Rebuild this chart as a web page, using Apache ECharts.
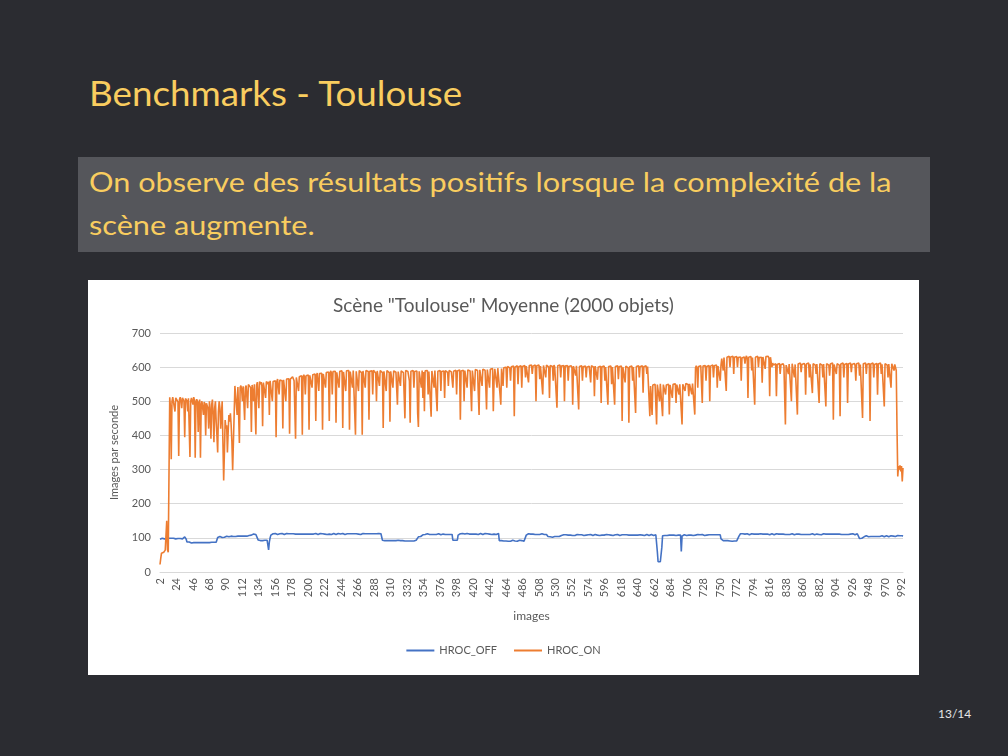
<!DOCTYPE html>
<html>
<head>
<meta charset="utf-8">
<script src="https://cdn.jsdelivr.net/npm/echarts@6/dist/echarts.min.js"></script>
<style>
  html, body { margin: 0; padding: 0; }
  body { width: 1008px; height: 756px; background: #2b2c31; position: relative; overflow: hidden; font-family: Lato, "Open Sans", sans-serif; }
  #title { position: absolute; left: 89px; top: 70px; font-size: 35px; line-height: 44px; color: #f9cd5f; white-space: nowrap; transform: scaleX(1.05); transform-origin: left top; }
  #box { position: absolute; left: 78px; top: 157px; width: 852px; height: 95px; background: #55565b; }
  #boxtext { position: absolute; left: 89px; top: 160px; font-size: 27px; line-height: 43px; color: #f9cd5f; white-space: nowrap; transform: scaleX(1.135); transform-origin: left top; }
  #chart { position: absolute; left: 88px; top: 280px; width: 831px; height: 395px; background: #ffffff; }
  #page { position: absolute; left: 938px; top: 706px; font-size: 12px; color: #e6e6e6; }
</style>
</head>
<body>
<div id="title">Benchmarks - Toulouse</div>
<div id="box"></div>
<div id="boxtext">On observe des résultats positifs lorsque la complexité de la<br>scène augmente.</div>
<div id="chart"></div>
<div id="page">13/14</div>
<script>
const chartTitle = 'Scène "Toulouse" Moyenne (2000 objets)';
const seriesNames = ['HROC_OFF', 'HROC_ON'];
const yTicks = { min: 0, max: 700, step: 100 };
const firstFrame = 2;
const frameCount = 993;
const frames = Array.from({ length: frameCount }, (_, k) => String(firstFrame + k));

const hrocOff = [
96,98,97,99,98,100,97,98,99,97,98,100,99,97,98,99,98,97,99,98,
99,97,98,100,98,97,99,98,100,98,97,99,100,103,104,96,88,87,86,88,
86,87,85,88,87,86,87,88,86,85,87,86,88,87,86,87,85,86,88,87,
86,87,88,86,85,87,86,87,88,87,86,85,87,86,88,87,89,101,103,102,
104,102,103,101,104,103,102,104,103,105,102,104,103,101,104,105,103,102,104,103,
105,104,106,103,105,104,106,105,107,104,105,106,104,105,107,106,105,104,106,107,
106,107,108,109,110,111,109,112,110,111,109,94,93,95,92,93,94,92,93,94,
93,95,92,93,90,65,88,100,108,110,111,112,110,111,113,112,111,110,112,111,
112,110,111,113,111,112,110,111,112,113,111,110,112,111,113,112,110,111,112,111,
113,111,112,110,111,112,113,111,110,112,111,112,113,111,112,110,111,113,112,111,
110,112,111,113,112,111,110,112,113,111,112,110,111,112,113,111,110,112,111,112,
111,113,112,110,111,112,111,113,112,110,112,111,113,112,111,110,112,111,113,112,
112,111,110,112,113,111,112,110,111,113,112,111,110,112,111,113,112,110,111,112,
113,111,112,110,112,111,113,112,110,111,112,113,111,110,112,111,113,112,111,114,
112,111,113,112,110,111,112,113,111,112,110,111,113,112,111,112,110,93,92,91,
92,93,91,92,90,93,92,91,93,92,90,91,92,93,91,92,89,91,93,92,
91,92,93,91,92,90,92,91,93,92,91,92,90,91,93,92,91,92,93,91,
92,91,93,92,94,103,104,105,104,103,106,109,110,111,110,109,111,112,110,109,
110,111,112,110,109,111,110,112,111,110,109,111,112,110,111,109,110,112,111,110,
111,110,112,109,110,111,112,110,109,111,110,93,92,91,93,92,94,93,108,110,
111,112,110,111,113,112,110,111,112,111,113,110,112,111,112,110,111,113,112,111,
110,112,111,113,112,110,111,112,113,111,112,110,111,112,113,111,110,112,111,112,
111,113,112,110,111,112,111,113,112,110,112,111,113,92,91,90,92,91,93,91,
90,92,91,93,91,90,92,91,90,92,91,93,92,90,91,92,91,90,92,91,
93,91,90,92,91,92,90,91,92,108,110,111,112,110,109,111,112,110,111,110,
112,110,111,109,110,112,111,110,109,111,112,110,111,110,112,111,110,106,104,105,
104,103,105,104,102,105,103,104,106,105,104,103,105,104,106,105,107,108,107,109,
108,107,109,108,106,108,109,107,108,110,108,107,109,108,107,109,108,110,107,108,
109,108,107,109,110,108,107,108,109,108,106,108,109,107,108,110,109,108,107,109,
108,110,109,107,108,109,108,107,109,110,108,109,107,108,109,108,110,107,108,109,
107,109,108,110,108,107,109,108,109,107,108,110,109,108,107,109,108,109,110,108,
109,108,107,109,108,110,108,107,109,108,109,107,108,110,109,108,109,107,108,109,
108,109,107,110,108,109,108,107,109,108,110,109,108,107,109,108,110,108,109,107,
108,107,109,106,60,30,27,28,30,29,72,106,108,109,107,108,110,107,108,109,
108,107,109,108,110,107,108,109,108,107,109,110,108,107,109,108,60,105,108,107,
109,108,110,107,108,109,108,107,109,108,110,109,107,108,109,108,107,109,110,108,
108,109,107,108,110,108,109,107,108,109,108,110,107,109,108,107,109,108,110,109,
108,107,109,110,108,109,107,108,109,97,94,93,92,94,93,92,91,93,92,94,
93,91,92,88,90,92,93,91,92,93,91,92,94,105,110,112,111,110,112,111,
110,111,109,110,112,111,110,109,111,110,112,110,109,111,110,112,111,110,109,111,
111,110,112,109,110,111,110,112,111,109,110,111,112,110,109,111,110,112,111,110,
109,111,110,112,110,109,111,110,112,111,110,109,111,110,112,110,111,109,110,112,
111,110,109,111,112,110,111,109,110,112,111,110,109,111,110,112,110,111,109,110,
112,111,110,109,111,110,112,111,110,109,111,112,110,111,109,110,112,111,110,111,
110,112,111,109,110,111,112,110,109,111,110,112,111,110,109,111,110,112,111,110,
109,111,110,112,111,110,109,111,110,112,110,111,109,110,112,111,110,109,111,110,
112,110,111,109,110,112,111,110,109,111,110,112,111,110,98,96,97,99,97,96,
103,105,104,106,105,104,103,105,106,104,105,103,104,106,105,104,103,105,104,106,
105,104,103,105,106,104,105,103,104,105,106,104,105,103,105,104,106,105,104,105,
106,105,104,106,105,107,105,104,106,105,107,106,105
];

const hrocOn = [
22,40,55,58,60,58,62,64,60,150,65,58,62,512,480,330,500,512,508,515,
470,510,505,514,498,340,505,512,500,480,510,506,500,395,508,513,502,470,509,505,
337,500,510,507,490,512,503,335,498,506,500,410,495,505,335,490,500,496,460,498,
492,400,494,498,480,420,500,470,390,490,505,460,380,480,500,440,400,350,470,500,
480,420,460,500,380,268,350,445,420,430,350,410,460,440,465,430,380,298,380,460,
545,540,548,460,542,538,378,540,546,535,500,544,548,445,540,546,543,480,549,545,
552,540,410,548,553,500,550,555,403,548,556,552,480,558,550,556,545,427,555,560,
553,510,558,562,550,557,460,560,555,562,500,558,563,556,560,395,558,565,560,520,
562,558,566,560,420,563,567,558,500,565,568,560,566,405,565,570,566,572,568,560,
565,390,570,574,567,530,572,576,570,575,402,572,578,571,520,575,579,572,577,417,
576,580,574,540,578,582,575,580,442,577,583,578,530,581,585,577,582,417,580,585,
579,540,584,588,581,586,442,583,589,582,520,587,590,584,588,437,585,590,583,540,
588,592,585,589,422,586,591,584,530,589,593,585,590,417,587,592,585,540,590,586,
591,402,588,593,585,530,590,586,592,584,402,589,593,586,540,590,585,591,587,446,
588,592,584,589,520,591,586,590,583,500,589,593,585,545,590,586,591,584,422,588,
592,585,530,590,586,591,584,440,588,592,585,540,589,586,591,585,590,490,587,592,
585,545,589,586,591,584,588,450,590,585,592,587,583,560,437,588,592,585,590,540,
587,591,584,589,465,425,588,592,585,540,590,510,586,471,589,593,585,590,520,587,
591,584,455,589,592,586,540,590,585,591,471,588,593,585,590,530,587,592,585,589,
510,590,586,592,585,545,590,587,593,586,591,540,588,593,586,591,520,589,594,587,
592,446,589,594,587,591,500,590,595,588,540,592,587,594,589,593,471,590,595,588,
530,593,589,595,590,520,460,592,596,589,545,594,590,596,591,540,476,593,597,590,
540,594,598,591,596,471,560,595,599,592,540,597,593,599,520,490,596,600,545,598,
601,595,600,540,602,597,603,598,560,601,604,598,603,456,600,605,599,604,550,601,
606,600,604,540,602,607,600,605,570,603,607,601,555,605,608,601,606,580,603,608,
601,606,500,604,608,601,606,565,603,607,600,520,605,608,601,570,606,602,607,600,
510,605,601,607,602,560,606,600,605,601,481,604,608,601,606,570,603,607,600,605,
500,603,607,600,605,560,602,606,600,604,598,490,603,607,600,575,604,600,605,476,
602,606,599,604,560,601,605,598,603,570,600,605,598,603,600,555,604,599,605,600,
515,603,598,604,563,600,605,598,603,495,601,605,598,603,560,600,604,597,490,602,
605,598,603,550,600,605,598,490,602,606,599,604,565,601,605,598,603,442,600,605,
598,555,603,599,605,598,437,601,605,598,603,560,600,605,598,466,602,606,599,604,
570,601,606,599,604,525,601,606,599,604,580,602,607,600,456,545,550,460,548,552,
545,550,547,432,549,553,546,500,551,547,553,456,549,545,551,520,548,553,546,550,
461,548,552,546,510,550,554,547,551,495,549,553,546,520,550,554,547,432,550,555,
548,530,552,547,553,549,515,551,555,548,520,552,547,553,461,598,604,597,540,602,
606,599,604,600,495,603,607,600,605,560,602,607,600,605,500,603,608,601,606,570,
604,608,601,606,540,603,608,601,560,606,625,630,590,628,633,626,530,629,634,627,
632,600,630,635,627,632,580,629,634,626,631,600,628,633,625,630,560,627,632,625,
630,610,627,633,626,510,629,634,627,631,590,628,633,626,490,629,634,627,632,600,
628,633,626,629,554,630,635,627,595,631,636,628,632,626,515,629,633,600,612,606,
611,605,610,515,608,613,606,611,580,607,612,605,610,604,609,432,606,611,605,580,
609,614,607,500,610,605,611,570,608,613,606,461,609,614,607,612,585,608,613,606,
611,605,519,609,614,607,612,570,608,613,606,524,610,605,611,606,580,609,614,607,
495,610,605,611,606,570,609,613,606,485,610,605,611,606,575,609,614,607,612,446,
608,613,606,580,610,605,611,606,456,609,614,607,612,570,608,613,606,611,495,609,
614,607,612,585,608,613,606,611,605,560,610,614,607,612,575,608,613,606,451,610,
614,607,612,580,608,613,606,611,442,609,614,607,612,570,608,613,606,611,519,609,
614,607,612,580,608,613,606,485,610,605,611,606,570,609,613,606,540,610,605,611,
590,608,612,590,420,280,310,300,312,295,310,265,305
];

const textColor = '#595959';
const gridColor = '#d9d9d9';
const chartFont = 'Lato';

const chart = echarts.init(document.getElementById('chart'), null, { renderer: 'canvas' });
chart.setOption({
  animation: false,
  backgroundColor: '#ffffff',
  textStyle: { fontFamily: chartFont },
  title: {
    text: chartTitle,
    left: 'center',
    top: 11,
    textStyle: { fontFamily: chartFont, fontSize: 19, fontWeight: 'normal', color: textColor }
  },
  grid: { left: 72, right: 16, top: 53, bottom: 103, containLabel: false },
  legend: {
    data: seriesNames,
    bottom: 14,
    left: 'center',
    icon: 'rect',
    itemWidth: 28,
    itemHeight: 2,
    itemGap: 17,
    textStyle: { fontFamily: chartFont, fontSize: 11, color: textColor }
  },
  xAxis: {
    type: 'category',
    data: frames,
    boundaryGap: false,
    name: 'images',
    nameLocation: 'middle',
    nameGap: 38,
    nameTextStyle: { fontFamily: chartFont, fontSize: 12, color: textColor },
    axisLine: { lineStyle: { color: gridColor } },
    axisTick: { show: false },
    axisLabel: { interval: 21, rotate: 90, fontSize: 11, color: textColor, margin: 6, fontFamily: chartFont },
    splitLine: { show: false }
  },
  yAxis: {
    type: 'value',
    min: yTicks.min,
    max: yTicks.max,
    interval: yTicks.step,
    name: 'Images par seconde',
    nameLocation: 'middle',
    nameGap: 40,
    nameTextStyle: { fontFamily: chartFont, fontSize: 11, color: textColor },
    axisLine: { show: false },
    axisTick: { show: false },
    axisLabel: { fontSize: 11, color: textColor, margin: 9, fontFamily: chartFont },
    splitLine: { lineStyle: { color: gridColor, width: 1 } }
  },
  series: [
    { name: seriesNames[0], type: 'line', data: hrocOff, symbol: 'none', color: '#4472c4', lineStyle: { width: 1.6, color: '#4472c4' } },
    { name: seriesNames[1], type: 'line', data: hrocOn, symbol: 'none', color: '#ed7d31', lineStyle: { width: 1.6, color: '#ed7d31' } }
  ]
});
</script>
</body>
</html>
